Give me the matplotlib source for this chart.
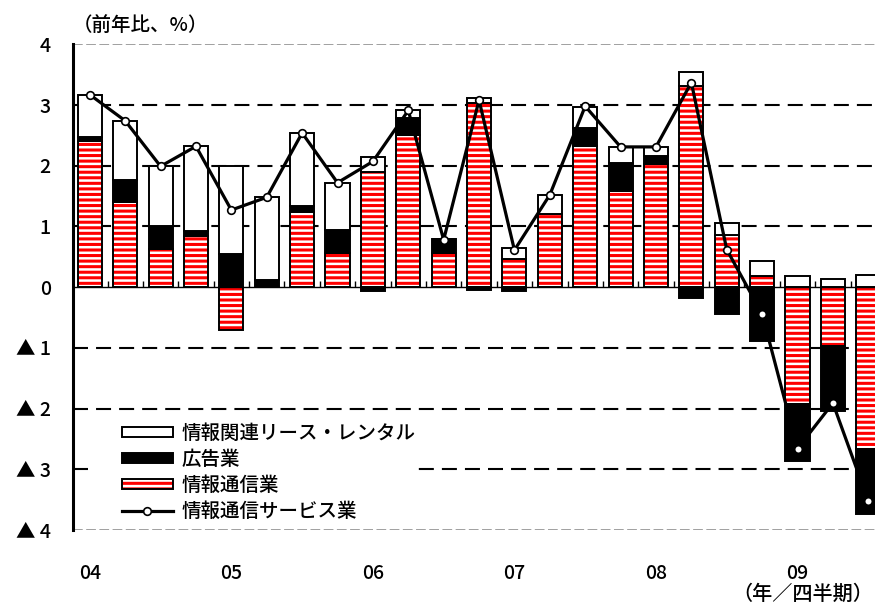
import numpy as np
import matplotlib
matplotlib.use("Agg")
import matplotlib.pyplot as plt
from matplotlib.patches import Patch, Rectangle
from matplotlib.lines import Line2D

plt.rcParams['font.family'] = ['Noto Sans CJK JP', 'DejaVu Sans']
plt.rcParams['font.weight'] = 'medium'
plt.rcParams['hatch.linewidth'] = 1.8
plt.rcParams['lines.scale_dashes'] = False

# quarters 2004Q1 .. 2009Q3
years = ['04', '05', '06', '07', '08', '09']
tsushin = [2.41, 1.40, 0.63, 0.85, -0.70, 0.00, 1.23, 0.57,
           1.89, 2.50, 0.57, 3.03, 0.46, 1.21, 2.32, 1.59,
           2.03, 3.32, 0.86, 0.19, -1.93, -0.97, -2.66]
kokoku = [0.07, 0.37, 0.37, 0.07, 0.54, 0.11, 0.10, 0.37,
          -0.06, 0.28, 0.22, -0.04, -0.07, 0.00, 0.30, 0.46,
          0.13, -0.18, -0.44, -0.88, -0.94, -1.07, -1.07]
lease = [0.69, 0.97, 0.99, 1.40, 1.45, 1.37, 1.21, 0.78,
         0.26, 0.13, 0.00, 0.08, 0.19, 0.31, 0.35, 0.26,
         0.15, 0.22, 0.19, 0.24, 0.19, 0.14, 0.20]
service = [3.17, 2.74, 1.99, 2.32, 1.27, 1.48, 2.54, 1.72,
           2.07, 2.91, 0.78, 3.08, 0.61, 1.52, 2.98, 2.31,
           2.31, 3.37, 0.62, -0.44, -2.66, -1.91, -3.52]
yticks = [4, 3, 2, 1, 0, -1, -2, -3, -4]
yticklabels = ['4', '3', '2', '1', '0', '▲ 1', '▲ 2', '▲ 3', '▲ 4']

fs = 14
x = np.arange(len(service))
w = 0.68

fig = plt.figure(figsize=(8.75, 6.06), dpi=100)
ax = fig.add_axes([73/875, 1-530/606, 1-73/875, (530-44.3)/606])

# grid lines
for v in [3, 2, 1, -1, -2, -3]:
    ax.axhline(v, color='black', lw=1.5, ls=(0, (10.8, 5.8)), zorder=0.5)
for v in [4, -4]:
    ax.axhline(v, color='#999999', lw=1.3, ls=(0, (7, 2.5)), zorder=0.5)

# stacked bars, positives up and negatives down
pos = np.zeros(len(x))
neg = np.zeros(len(x))
def stack(vals):
    vals = np.asarray(vals)
    bottom = np.where(vals >= 0, pos, neg)
    pos[:] = pos + np.clip(vals, 0, None)
    neg[:] = neg + np.clip(vals, None, 0)
    return vals, bottom

v, b = stack(tsushin)
ax.bar(x, v, w, bottom=b, color='red', edgecolor='white', hatch='---', lw=0, zorder=2)
ax.bar(x, v, w, bottom=b, fill=False, edgecolor='black', lw=1.4, zorder=2.1)
v, b = stack(kokoku)
ax.bar(x, v, w, bottom=b, color='black', edgecolor='black', lw=1.4, zorder=2.1)
v, b = stack(lease)
ax.bar(x, v, w, bottom=b, color='white', edgecolor='black', lw=1.4, zorder=2.1)

ax.plot(x, service, color='black', lw=2.3, marker='o', ms=5.5,
        mfc='white', mec='black', mew=1.2, zorder=3)

ax.set_xlim(-0.475, 22.19)
ax.set_ylim(-4, 4)
ax.set_yticks(yticks)
ax.set_yticklabels(yticklabels, fontsize=fs)
ax.tick_params(axis='y', length=0, pad=16)
ax.set_xticks(x[:-1] + 0.5)
ax.set_xticklabels([])
ax.tick_params(axis='x', direction='in', length=4, width=1, color='black')

for s in ['top', 'right']:
    ax.spines[s].set_visible(False)
ax.spines['left'].set_linewidth(2.2)
ax.spines['bottom'].set_position(('data', 0))
ax.spines['bottom'].set_linewidth(1.0)
ax.spines['bottom'].set_zorder(2.5)

for i, yr in enumerate(years):
    ax.text(i*4, -0.0905, yr, transform=ax.get_xaxis_transform(),
            ha='center', va='center', fontsize=fs)

# white area behind legend
ax.add_patch(Rectangle((0.027, 0.0103), 0.396, 0.22, transform=ax.transAxes,
                       facecolor='white', edgecolor='none', zorder=1))

handles = [Patch(facecolor='white', edgecolor='black', lw=1.4),
           Patch(facecolor='black', edgecolor='black', lw=1.4),
           (Patch(facecolor='red', edgecolor='white', hatch='---', lw=0),
            Patch(fill=False, edgecolor='black', lw=1.4)),
           Line2D([], [], color='black', lw=2.3, marker='o', ms=5.5,
                  mfc='white', mec='black', mew=1.2)]
labels = ['情報関連リース・レンタル', '広告業', '情報通信業', '情報通信サービス業']
leg = ax.legend(handles, labels, loc='upper left', bbox_to_anchor=(0.061, 0.218),
                frameon=False, fontsize=fs, handlelength=2.63, handleheight=0.43,
                handletextpad=0.46, labelspacing=0.36, borderpad=0, borderaxespad=0)
leg.set_zorder(4)

fig.text(73/875, 1-25/606, '（前年比、%）', fontsize=fs, ha='left', va='center')
fig.text(873/875, 1-594/606, '（年／四半期）', fontsize=14.5, ha='right', va='center')

fig.savefig('out.png', dpi=100)
